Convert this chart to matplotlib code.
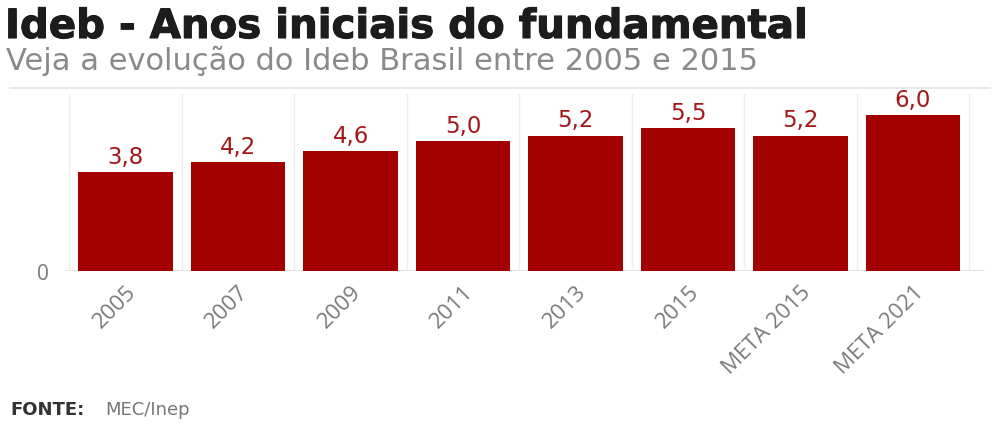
import matplotlib.pyplot as plt
import matplotlib.patheffects as pe
from matplotlib.lines import Line2D

# Ideb data (anos iniciais do fundamental)
categories = ['2005', '2007', '2009', '2011', '2013', '2015', 'META 2015', 'META 2021']
values = [3.8, 4.2, 4.6, 5.0, 5.2, 5.5, 5.2, 6.0]
labels = ['3,8', '4,2', '4,6', '5,0', '5,2', '5,5', '5,2', '6,0']

bar_color = '#a30000'
W, H = 993, 427

fig = plt.figure(figsize=(W / 100, H / 100), dpi=100)
fig.patch.set_facecolor('white')

# title block
fig.text(5 / W, 1 - 28 / H, 'Ideb - Anos iniciais do fundamental', fontsize=29,
         fontweight='bold', family='DejaVu Sans', color='#1c1c1c', va='center', ha='left',
         path_effects=[pe.withStroke(linewidth=0.8, foreground='#1c1c1c')])
fig.text(6 / W, 1 - 61 / H, 'Veja a evolução do Ideb Brasil entre 2005 e 2015', fontsize=22,
         family='DejaVu Sans', color='#8a8a8a', va='center', ha='left')
fig.add_artist(Line2D([10 / W, 990 / W], [1 - 89 / H, 1 - 89 / H], color='#e4e4e4', lw=1.2))

# plot area
ax = fig.add_axes([66 / W, (H - 272) / H, (985 - 66) / W, (272 - 95) / H])
x = range(len(categories))
bars = ax.bar(x, values, width=0.84, color=bar_color, zorder=3)
ax.set_xlim(-0.53, 7.64)
ax.set_ylim(0, 6.8)

for b, lab in zip(bars, labels):
    ax.annotate(lab, (b.get_x() + b.get_width() / 2, b.get_height()), xytext=(0, 3),
                textcoords='offset points', ha='center', va='bottom', fontsize=16.5,
                family='DejaVu Sans', color='#a3161a')

# light vertical separators between categories + baseline
for xv in [i - 0.5 for i in range(len(categories) + 1)]:
    ax.axvline(xv, color='#eeeeee', lw=1, zorder=1)
ax.axhline(0, color='#e0e0e0', lw=1.2, zorder=2)

for s in ax.spines.values():
    s.set_visible(False)
ax.set_xticks(list(x))
ax.set_xticklabels(categories, rotation=45, ha='right', rotation_mode='anchor',
                   fontsize=16, family='Open Sans', color='#7a7a7a')
ax.set_yticks([0])
ax.set_yticklabels(['0'], fontsize=15, family='Open Sans', color='#7a7a7a')
ax.tick_params(axis='both', length=0)
ax.tick_params(axis='x', pad=7)
ax.tick_params(axis='y', pad=12)

# source
fig.text(10 / W, 1 - 410 / H, 'FONTE:', fontsize=13, fontweight='bold', family='DejaVu Sans',
         color='#333333', va='center', ha='left')
fig.text(105 / W, 1 - 410 / H, 'MEC/Inep', fontsize=13, family='DejaVu Sans',
         color='#777777', va='center', ha='left')

fig.savefig('out.png', dpi=100, facecolor='white')
